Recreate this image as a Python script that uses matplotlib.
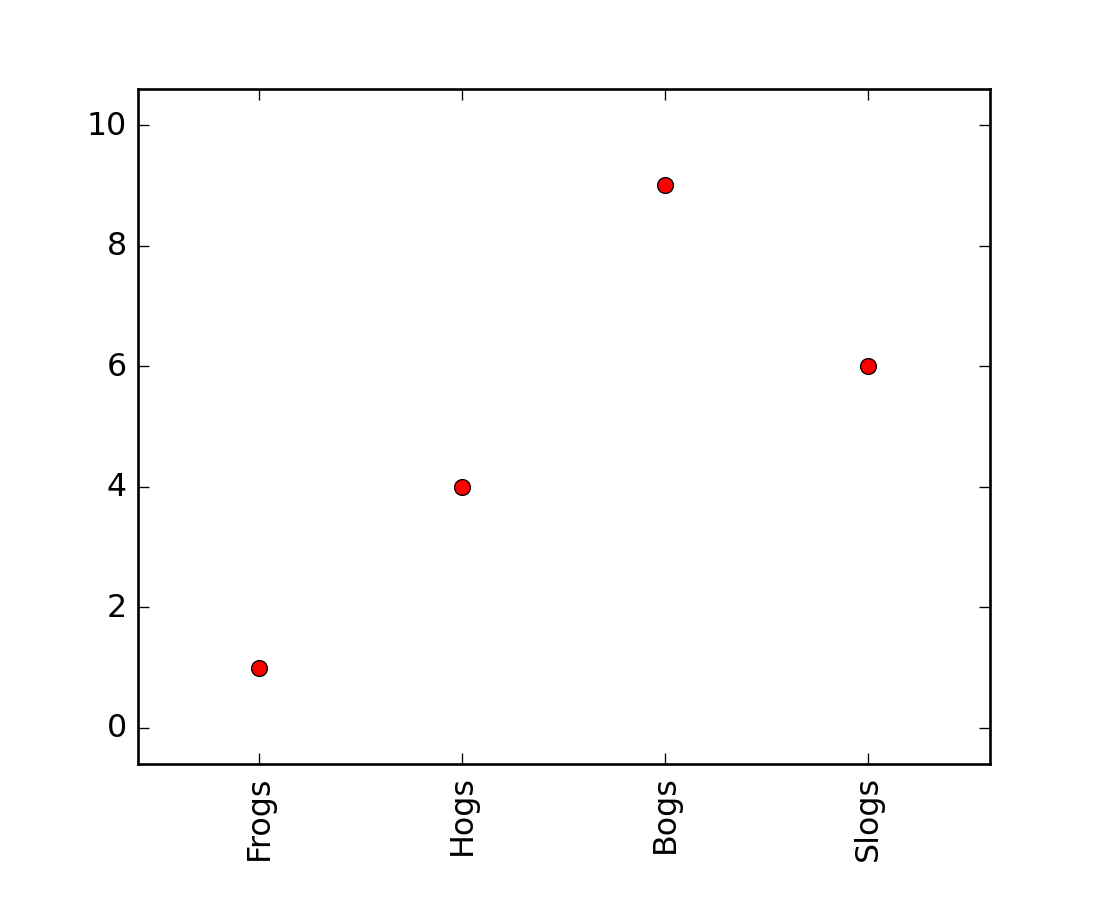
import matplotlib
matplotlib.use("Agg")
import matplotlib.pyplot as plt

plt.style.use("classic")

x = [1, 2, 3, 4]
y = [1, 4, 9, 6]
labels = ["Frogs", "Hogs", "Bogs", "Slogs"]

DPI = 190
fig = plt.figure(figsize=(1100 / DPI, 900 / DPI), dpi=DPI)
plt.plot(x, y, "ro")
plt.xticks(x, labels, rotation="vertical")
plt.margins(0.2)
plt.subplots_adjust(bottom=0.15)
fig.savefig("out.png", dpi=DPI)
